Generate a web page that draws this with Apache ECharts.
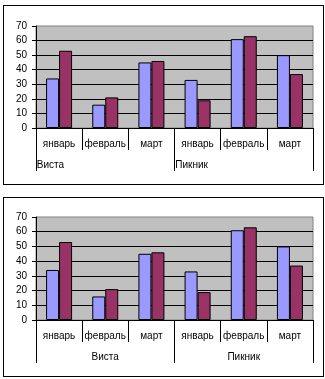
<!DOCTYPE html>
<html><head><meta charset="utf-8">
<script src="https://cdn.jsdelivr.net/npm/echarts@6/dist/echarts.min.js"></script>
<style>
html,body{margin:0;padding:0;background:#fff;width:325px;height:379px;overflow:hidden;}
.box{position:absolute;box-sizing:border-box;border:1px solid #000;background:#fff;}
#c{position:absolute;left:0;top:0;width:325px;height:379px;}
</style></head><body>
<div class="box" style="left:3px;top:5px;width:321px;height:180px;"></div>
<div class="box" style="left:3px;top:197px;width:321px;height:180px;"></div>
<div id="c"></div>
<script>
const months = ['январь','февраль','март','январь','февраль','март'];
const groups = ['Виста','Пикник'];
const seriesA = [34, 16, 45, 33, 61, 50];
const seriesB = [53, 21, 46, 19, 63, 37];
const yTicks = {min: 0, max: 70, interval: 10};

const font = {fontFamily: 'Arial, "Liberation Sans", sans-serif', fontSize: 10, color: '#000'};
const gridsPos = [
  {left: 36, top: 26, width: 277, height: 102},
  {left: 36, top: 217, width: 277, height: 103}
];
const grid = gridsPos.map(g => Object.assign({show: true, backgroundColor: '#c0c0c0', borderColor: '#808080', borderWidth: 1}, g));
const xAxis = [], yAxis = [], series = [];
gridsPos.forEach((g, i) => {
  xAxis.push({
    type: 'category', gridIndex: i, data: months, position: 'bottom',
    axisLine: {lineStyle: {color: '#000', width: 1}},
    axisTick: {show: true, interval: 0, length: 22, lineStyle: {color: '#000'}},
    axisLabel: Object.assign({interval: 0, margin: 11}, font),
    splitLine: {show: false}
  });
  const groupLabel = i === 0
    ? Object.assign({interval: 0, margin: 32, formatter: v => '{a|' + v + '}', rich: {a: Object.assign({width: 137, align: 'left'}, font)}}, font)
    : Object.assign({interval: 0, margin: 32}, font);
  xAxis.push({
    type: 'category', gridIndex: i, data: groups, position: 'bottom',
    axisLine: {show: false},
    axisTick: {show: true, interval: 0, length: 43, lineStyle: {color: '#000'}},
    axisLabel: groupLabel,
    splitLine: {show: false}
  });
  yAxis.push({
    type: 'value', gridIndex: i, min: yTicks.min, max: yTicks.max, interval: yTicks.interval,
    axisLine: {show: true, lineStyle: {color: '#000'}},
    axisTick: {show: true, length: 4, lineStyle: {color: '#000'}},
    axisLabel: Object.assign({margin: 9}, font),
    splitLine: {show: true, showMinLine: false, showMaxLine: false, lineStyle: {color: '#000', width: 1}}
  });
  [seriesA, seriesB].forEach((d, k) => {
    series.push({
      type: 'bar', xAxisIndex: i * 2, yAxisIndex: i, data: d,
      barWidth: 13, barGap: '0%', silent: true,
      itemStyle: {color: k === 0 ? '#9999ff' : '#993366', borderColor: '#000', borderWidth: 1}
    });
  });
});
const chart = echarts.init(document.getElementById('c'), null, {renderer: 'canvas'});
chart.setOption({animation: false, grid, xAxis, yAxis, series});
</script>
</body></html>
